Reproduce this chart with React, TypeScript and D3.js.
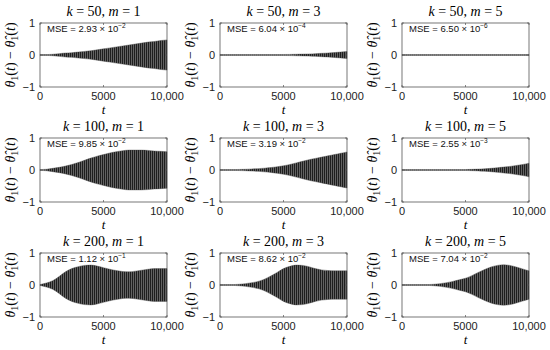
import * as d3 from 'd3';

// time grid shared by all panels (every 500 steps)
const tGrid = [0, 500, 1000, 1500, 2000, 2500, 3000, 3500, 4000, 4500, 5000, 5500, 6000, 6500, 7000, 7500, 8000, 8500, 9000, 9500, 10000];

// envelope amplitudes of theta1 - theta1hat
const env50m1 = [0, 0, 0.01, 0.03, 0.05, 0.06, 0.08, 0.1, 0.12, 0.15, 0.18, 0.21, 0.24, 0.27, 0.3, 0.33, 0.36, 0.39, 0.41, 0.44, 0.46];
const env50m3 = [0, 0, 0, 0, 0, 0, 0, 0, 0, 0.002, 0.004, 0.006, 0.01, 0.015, 0.02, 0.03, 0.04, 0.05, 0.065, 0.08, 0.1];
const env50m5 = [0.003, 0.003, 0.003, 0.003, 0.003, 0.003, 0.003, 0.003, 0.003, 0.003, 0.003, 0.003, 0.003, 0.003, 0.003, 0.003, 0.003, 0.003, 0.003, 0.003, 0.003];
const env100m1 = [0, 0.01, 0.04, 0.07, 0.11, 0.16, 0.22, 0.29, 0.36, 0.42, 0.47, 0.52, 0.56, 0.59, 0.61, 0.61, 0.61, 0.6, 0.58, 0.57, 0.56];
const env100m3 = [0, 0, 0, 0.005, 0.01, 0.02, 0.03, 0.045, 0.065, 0.09, 0.12, 0.16, 0.21, 0.26, 0.31, 0.35, 0.39, 0.43, 0.47, 0.51, 0.55];
const env100m5 = [0, 0, 0, 0, 0, 0, 0, 0, 0, 0, 0.003, 0.008, 0.015, 0.025, 0.04, 0.06, 0.08, 0.1, 0.13, 0.16, 0.2];
const env200m1 = [0, 0.05, 0.12, 0.25, 0.4, 0.5, 0.56, 0.6, 0.61, 0.58, 0.53, 0.48, 0.44, 0.41, 0.4, 0.42, 0.45, 0.48, 0.5, 0.5, 0.5];
const env200m3 = [0, 0, 0, 0.01, 0.03, 0.06, 0.1, 0.17, 0.27, 0.38, 0.5, 0.57, 0.61, 0.6, 0.56, 0.5, 0.46, 0.44, 0.43, 0.43, 0.43];
const env200m5 = [0, 0, 0, 0, 0, 0.01, 0.03, 0.06, 0.1, 0.15, 0.2, 0.28, 0.38, 0.47, 0.55, 0.6, 0.62, 0.6, 0.55, 0.49, 0.43];

const kValues = ['50', '100', '200'];
const mValues = ['1', '3', '5'];
const envelopes = [
  [env50m1, env50m3, env50m5],
  [env100m1, env100m3, env100m5],
  [env200m1, env200m3, env200m5],
];
const mseMantissa = [
  ['2.93', '6.04', '6.50'],
  ['9.85', '3.19', '2.55'],
  ['1.12', '8.62', '7.04'],
];
const mseExponent = [
  ['−2', '−4', '−6'],
  ['−2', '−2', '−3'],
  ['−1', '−2', '−2'],
];
const xTicks = [0, 5000, 10000];
const xTickLabels = ['0', '5000', '10,000'];
const yTicks = [-1, 0, 1];
const yTickLabels = ['−1', '0', '1'];

const colLeft = [40, 220, 402];
const rowTop = [23, 138, 253];
const pw = 127;
const ph = 64;
const sans = 'Liberation Sans, Arial, sans-serif';
const serif = '"Liberation Serif", "Times New Roman", serif';

const Panel = ({ row, col }: { row: number; col: number }) => {
  const x = d3.scaleLinear().domain([0, 10000]).range([0, pw]);
  const y = d3.scaleLinear().domain([-1, 1]).range([ph, 0]);
  const env = envelopes[row][col];
  const pts = tGrid.map((t, i) => ({ t, a: env[i] }));
  const area = d3.area<{ t: number; a: number }>()
    .x(d => x(d.t))
    .y0(d => y(-d.a) + 0.4)
    .y1(d => y(d.a) - 0.4)
    .curve(d3.curveMonotoneX);

  return (
    <g transform={`translate(${colLeft[col]},${rowTop[row]})`}>
      <text x={pw / 2} y={-7} textAnchor="middle" fontFamily={serif} fontSize={14}>
        <tspan fontStyle="italic">k</tspan> = {kValues[row]}, <tspan fontStyle="italic">m</tspan> = {mValues[col]}
      </text>
      <path d={area(pts) ?? ''} fill="url(#osc)" stroke="#444" strokeWidth={0.4} />
      <rect x={0} y={0} width={pw} height={ph} fill="none" stroke="#555" strokeWidth={0.8} />
      {xTicks.map((t, i) => (
        <g key={'x' + t}>
          <line x1={x(t)} x2={x(t)} y1={ph} y2={ph - 2} stroke="#555" strokeWidth={0.7} />
          <line x1={x(t)} x2={x(t)} y1={0} y2={2} stroke="#555" strokeWidth={0.7} />
          <text x={x(t)} y={ph + 13} textAnchor="middle" fontFamily={sans} fontSize={11} fill="#222">{xTickLabels[i]}</text>
        </g>
      ))}
      {yTicks.map((v, i) => (
        <g key={'y' + v}>
          <line x1={0} x2={2} y1={y(v)} y2={y(v)} stroke="#555" strokeWidth={0.7} />
          <line x1={pw} x2={pw - 2} y1={y(v)} y2={y(v)} stroke="#555" strokeWidth={0.7} />
          <text x={-5} y={y(v) + 4} textAnchor="end" fontFamily={sans} fontSize={11} fill="#222">{yTickLabels[i]}</text>
        </g>
      ))}
      <text x={7} y={8.5} fontFamily={sans} fontSize={9.5} fill="#111">
        MSE = {mseMantissa[row][col]} × 10<tspan dy={-4} fontSize={6.5}>{mseExponent[row][col]}</tspan>
      </text>
      <text x={pw / 2} y={ph + 27} textAnchor="middle" fontFamily={serif} fontStyle="italic" fontSize={13}>t</text>
      <text transform={`translate(-25,${ph / 2}) rotate(-90)`} textAnchor="middle" fontFamily={serif} fontSize={14}>
        <tspan fontStyle="italic">θ</tspan><tspan fontSize={10} dy={3}>1</tspan><tspan dy={-3}>(</tspan><tspan fontStyle="italic">t</tspan>) − <tspan fontStyle="italic">θ̂</tspan><tspan fontSize={10} dy={3}>1</tspan><tspan dy={-3}>(</tspan><tspan fontStyle="italic">t</tspan>)
      </text>
    </g>
  );
};

export default function App() {
  return (
    <svg width={550} height={350} style={{ position: 'absolute', left: 0, top: 0, background: '#fff' }}>
      <defs>
        <pattern id="osc" width={2} height={4} patternUnits="userSpaceOnUse">
          <rect width={2} height={4} fill="#6a6a6a" />
          <rect width={1.1} height={4} fill="#1e1e1e" />
        </pattern>
      </defs>
      {[0, 1, 2].map(r => [0, 1, 2].map(c => <Panel key={`${r}-${c}`} row={r} col={c} />))}
    </svg>
  );
}
